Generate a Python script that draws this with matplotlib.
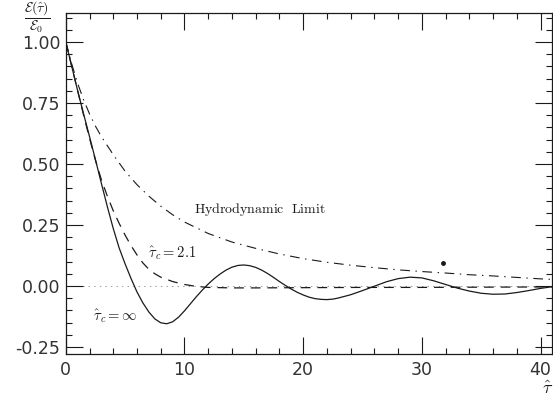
"""
Energy relaxation E(tau)/E0 vs tau: free streaming (tau_c = inf),
tau_c = 2.1 and the hydrodynamic limit.
"""

import matplotlib
matplotlib.use("Agg")
import matplotlib.pyplot as plt
from matplotlib.ticker import MultipleLocator

# tau_c = infinity (solid)
tau_inf = [0, 0.5, 1, 1.5, 2, 2.5, 3, 3.5, 4, 4.5, 5, 5.5, 6, 6.5, 7, 7.5, 8, 8.5,
           9, 9.5, 10, 10.5, 11, 11.5, 12, 12.5, 13, 13.5, 14, 14.5, 15, 15.5, 16,
           16.5, 17, 17.5, 18, 18.5, 19, 19.5, 20, 20.5, 21, 21.5, 22, 22.5, 23,
           24, 25, 26, 27, 28, 29, 30, 31, 32, 33, 34, 35, 36, 37, 38, 39, 40, 41]
e_inf = [1.0, 0.90, 0.80, 0.705, 0.612, 0.517, 0.42, 0.325, 0.235, 0.155, 0.09,
         0.03, -0.025, -0.07, -0.107, -0.135, -0.151, -0.155, -0.147, -0.128,
         -0.102, -0.073, -0.044, -0.017, 0.008, 0.03, 0.049, 0.065, 0.077, 0.084,
         0.086, 0.083, 0.076, 0.065, 0.051, 0.035, 0.018, 0.002, -0.013, -0.026,
         -0.037, -0.046, -0.052, -0.055, -0.056, -0.054, -0.049, -0.036, -0.019,
         -0.001, 0.017, 0.03, 0.036, 0.033, 0.021, 0.006, -0.009, -0.021, -0.03,
         -0.034, -0.033, -0.027, -0.019, -0.01, -0.003]

# tau_c = 2.1 (dashed)
tau_21 = [0, 0.5, 1, 1.5, 2, 2.5, 3, 3.5, 4, 4.5, 5, 5.5, 6, 6.5, 7, 7.5, 8, 9, 10,
          11, 12, 14, 16, 20, 25, 30, 35, 41]
e_21 = [1.0, 0.90, 0.80, 0.70, 0.605, 0.515, 0.435, 0.368, 0.308, 0.256, 0.208,
        0.165, 0.127, 0.094, 0.068, 0.05, 0.036, 0.018, 0.006, -0.002, -0.006,
        -0.008, -0.008, -0.007, -0.006, -0.006, -0.005, -0.004]

# hydrodynamic limit (dash-dot)
tau_hyd = [0, 0.5, 1, 1.5, 2, 2.5, 3, 4, 5, 6, 7, 8, 9, 10, 12, 14, 16, 18, 20, 22,
           24, 26, 28, 30, 32, 34, 36, 38, 40, 41]
e_hyd = [1.0, 0.91, 0.83, 0.763, 0.705, 0.655, 0.612, 0.538, 0.47, 0.415, 0.368,
         0.327, 0.292, 0.262, 0.215, 0.18, 0.154, 0.131, 0.112, 0.097, 0.085,
         0.075, 0.066, 0.059, 0.053, 0.046, 0.041, 0.035, 0.029, 0.027]

# stray point
dot_tau = [31.8]
dot_e = [0.093]

x_ticks = [0, 10, 20, 30, 40]
y_ticks = [-0.25, 0.0, 0.25, 0.5, 0.75, 1.0]

plt.rcParams["mathtext.fontset"] = "cm"
plt.rcParams["lines.scale_dashes"] = False

ink = "#1a1a1a"
fig = plt.figure(figsize=(5.53, 4.0), dpi=100)
ax = fig.add_axes([0.119, 0.115, 0.880, 0.8525])

ax.axhline(0, color="#888888", lw=0.6, ls=(0, (1, 3)), zorder=1)
ax.plot(tau_hyd, e_hyd, color=ink, lw=0.8, ls=(0, (7, 4, 1, 4)))
ax.plot(tau_21, e_21, color=ink, lw=0.9, ls=(0, (7, 5)))
ax.plot(tau_inf, e_inf, color=ink, lw=0.9, ls="-")
ax.plot(dot_tau, dot_e, "o", color=ink, ms=2.5)

ax.set_xlim(0, 41)
ax.set_ylim(-0.279, 1.119)
ax.set_xticks(x_ticks)
ax.set_xticklabels([str(v) for v in x_ticks])
ax.set_yticks(y_ticks)
ax.set_yticklabels([f"{v:.2f}" for v in y_ticks])
ax.xaxis.set_minor_locator(MultipleLocator(2))
ax.yaxis.set_minor_locator(MultipleLocator(0.05))
ax.tick_params(which="both", direction="in", top=True, right=True, color=ink,
               width=0.8)
ax.tick_params(which="major", length=12, labelsize=12.5, labelcolor="#333333")
ax.tick_params(axis="x", which="major", pad=5)
ax.tick_params(axis="y", which="major", pad=4)
ax.tick_params(which="minor", length=4.5)
for s in ax.spines.values():
    s.set_linewidth(0.9)
    s.set_color(ink)

ax.text(10.8, 0.315, r"$\mathrm{Hydrodynamic\ \ Limit}$", fontsize=10, color=ink,
        va="center", ha="left")
ax.text(6.9, 0.135, r"$\hat{\tau}_c = 2.1$", fontsize=10.5, color=ink,
        va="center", ha="left")
ax.text(2.3, -0.124, r"$\hat{\tau}_c = \infty$", fontsize=10.5, color=ink,
        va="center", ha="left")

fig.text(37 / 553, 1 - 17 / 400, r"$\dfrac{\mathcal{E}(\hat{\tau})}{\mathcal{E}_0}$",
         fontsize=10, ha="center", va="center", color=ink)
fig.text(548 / 553, 1 - 389 / 400, r"$\hat{\tau}$", fontsize=13, ha="center",
         va="center", color=ink)

fig.savefig("out.png", dpi=100)
